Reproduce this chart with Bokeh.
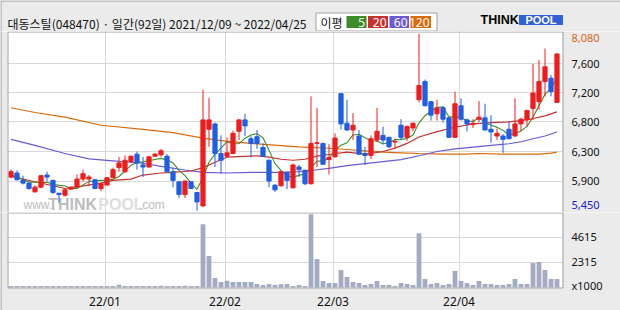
from bokeh.plotting import figure
from bokeh.models import ColumnDataSource, Range1d, FixedTicker, Grid, Label
from bokeh.layouts import column
from bokeh.embed import file_html
from bokeh.resources import INLINE
from bokeh.core.properties import value

# ---------------- data ----------------
opens = [5950, 6010, 5900, 5860, 5730, 5800, 5980, 5900, 5710, 5680,
         5770, 5800, 5920, 5920, 5910, 5780, 5830, 5940, 6090, 6030,
         6180, 6290, 6130, 6100, 6260, 6280, 6260, 6030, 5880, 5690,
         5880, 5720, 5520, 6660, 6740, 6300, 6260, 6300, 6630, 6800,
         6520, 6550, 6390, 6200, 5830, 5820, 6020, 5790, 6100, 6050,
         5850, 6450, 6450, 6210, 6250, 7190, 6750, 6650, 6560, 6300,
         6270, 6500, 6570, 6540, 6470, 6720, 6540, 6680, 7100, 7370,
         7070, 6890, 6980, 6830, 6540, 7010, 6800, 6730, 6810, 6830,
         6660, 6560, 6560, 6660, 6560, 6740, 6800, 6970, 7070, 7370,
         7420, 7060]
highs = [6060, 6050, 5970, 5870, 5830, 5980, 6030, 5910, 5710, 5780,
         5810, 5990, 6060, 5980, 5920, 5870, 5950, 6090, 6250, 6270,
         6270, 6330, 6250, 6260, 6310, 6370, 6290, 6090, 5890, 5900,
         5890, 5730, 7250, 7130, 6760, 6570, 6540, 6640, 6810, 6890,
         6560, 6650, 6450, 6210, 5840, 6040, 6030, 6150, 6130, 6060,
         7150, 6980, 6460, 6440, 6600, 7200, 7100, 6900, 6650, 6400,
         6570, 6980, 6700, 6550, 6520, 6810, 6720, 6760, 8080, 7400,
         7080, 7100, 7000, 6840, 7220, 7120, 6820, 6810, 7080, 7040,
         6870, 6670, 6590, 6780, 7120, 6830, 6950, 7630, 7690, 7860,
         7470, 7790]
lows = [5930, 5900, 5840, 5760, 5720, 5790, 5890, 5700, 5570, 5660,
        5760, 5790, 5880, 5820, 5770, 5740, 5830, 5930, 6030, 6010,
        6160, 6060, 5950, 6090, 6250, 6250, 6020, 5800, 5640, 5640,
        5770, 5450, 5510, 6400, 6100, 6000, 6250, 6290, 6500, 6560,
        6240, 6370, 6250, 5800, 5730, 5810, 5770, 5780, 5950, 5830,
        5840, 6100, 6130, 5990, 6240, 6660, 6640, 6500, 6280, 6130,
        6220, 6470, 6440, 6380, 6380, 6500, 6490, 6630, 7060, 7000,
        6790, 6790, 6760, 6530, 6530, 6790, 6630, 6680, 6770, 6640,
        6460, 6500, 6310, 6510, 6550, 6630, 6700, 6800, 6950, 7150,
        7150, 7060]
closes = [6030, 5910, 5860, 5780, 5800, 5970, 5950, 5720, 5690, 5760,
          5800, 5920, 6000, 5950, 5780, 5850, 5940, 6060, 6160, 6200,
          6260, 6160, 6100, 6250, 6290, 6340, 6030, 5900, 5690, 5890,
          5780, 5580, 6800, 6800, 6300, 6200, 6310, 6600, 6800, 6710,
          6450, 6450, 6260, 5890, 5760, 6030, 5900, 6130, 6060, 5850,
          6450, 6460, 6140, 6240, 6530, 6740, 6650, 6720, 6290, 6270,
          6520, 6630, 6500, 6400, 6480, 6540, 6700, 6750, 7310, 7010,
          6870, 6980, 6810, 6540, 7040, 6810, 6740, 6750, 6840, 6650,
          6620, 6600, 6510, 6520, 6740, 6810, 6940, 7200, 7370, 7590,
          7220, 7780]
# volume, thousands of shares
volumes = [130, 130, 130, 130, 130, 130, 130, 130, 130, 130,
           130, 130, 130, 130, 130, 130, 130, 140, 250, 140,
           130, 140, 130, 140, 130, 150, 140, 130, 140, 150,
           130, 140, 5840, 2900, 870, 510, 630, 510, 510, 510,
           510, 320, 230, 320, 230, 300, 320, 140, 230, 140,
           6760, 2620, 600, 410, 410, 1610, 970, 510, 410, 230,
           320, 600, 230, 230, 140, 410, 320, 230, 5010, 780,
           320, 410, 230, 320, 1520, 600, 410, 230, 600, 320,
           320, 230, 230, 320, 780, 320, 320, 2250, 2350, 1610,
           780, 780]
ma5 = [5975, 5955, 5915, 5875, 5876, 5864, 5872, 5844, 5826, 5818,
       5784, 5778, 5834, 5886, 5890, 5900, 5904, 5916, 5958, 6042,
       6124, 6168, 6176, 6194, 6212, 6228, 6202, 6162, 6050, 5970,
       5858, 5768, 5945, 6170, 6290, 6380, 6475, 6442, 6448, 6528,
       6576, 6595, 6534, 6350, 6150, 6050, 5968, 5950, 5975, 6000,
       6090, 6185, 6190, 6225, 6355, 6422, 6460, 6576, 6586, 6534,
       6490, 6486, 6442, 6464, 6506, 6510, 6524, 6574, 6756, 6862,
       6928, 6984, 6996, 6842, 6848, 6836, 6788, 6776, 6836, 6758,
       6720, 6692, 6644, 6580, 6598, 6636, 6704, 6842, 7012, 7182,
       7264, 7432]
ma20_idx = [0, 4, 9, 12, 15, 17, 20, 22, 25, 27, 30, 32, 34, 36, 38, 41, 43, 45, 47,
            49, 51, 53, 56, 59, 62, 64, 66, 68, 71, 74, 77, 80, 83, 85, 87, 89, 91]
ma20 = [5960, 5880, 5780, 5820, 5860, 5900, 5920, 5980, 6010, 6020, 6040, 6090,
        6170, 6245, 6255, 6265, 6245, 6215, 6200, 6215, 6260, 6285, 6320, 6290,
        6330, 6380, 6450, 6545, 6625, 6690, 6740, 6760, 6770, 6790, 6820, 6860, 6920]
ma60_idx = [0, 4, 9, 13, 17, 22, 25, 29, 32, 36, 40, 45, 48, 50, 53, 56, 59, 62,
            65, 68, 71, 74, 77, 80, 83, 85, 87, 89, 91]
ma60 = [6510, 6420, 6300, 6220, 6190, 6155, 6110, 6055, 6020, 6010, 6020, 6020,
        6030, 6047, 6080, 6120, 6150, 6180, 6210, 6267, 6330, 6370, 6395, 6420,
        6445, 6475, 6520, 6560, 6620]
ma120_idx = [0, 4, 9, 15, 22, 27, 32, 36, 40, 45, 48, 53, 56, 59, 62, 65, 68, 72,
             76, 78, 82, 88, 90, 91]
ma120 = [6980, 6910, 6840, 6720, 6660, 6610, 6530, 6480, 6450, 6418, 6400, 6378,
         6360, 6340, 6320, 6310, 6300, 6290, 6290, 6300, 6290, 6290, 6305, 6320]

month_idx = [16, 36, 54, 75]            # first trading day of each month
month_labels = ["22/01", "22/02", "22/03", "22/04"]
price_grid = [7631, 7200, 6769, 6323, 5891]
price_grid_labels = ["7,600", "7,200", "6,800", "6,300", "5,900"]
price_hi_label = "8,080"
price_lo_label = "5,450"
vol_grid = [4615, 2315]
vol_grid_labels = ["4615", "2315"]
vol_unit_label = "x1000"
title_text = "대동스틸(048470) · 일간(92일) 2021/12/09 ~ 2022/04/25"
ma_names = ["5", "20", "60", "120"]

# ---------------- styles ----------------
BG = "#ebebeb"
GRID = "#d9d9d9"
FRAME = "#a0a0a0"
EDGE = "#999999"
UP = "#f01c1c"
DOWN = "#1e5fe6"
C5, C20, C60, C120 = "#3c8c28", "#c8322d", "#6a5ad8", "#dc6a0a"
VOLC = "#a3abc3"
NUM_FONT = "Noto Sans"
TXT = "#111111"

n = len(closes)
idx = list(range(n))
colors = [UP if c >= o else DOWN for o, c in zip(opens, closes)]
src = ColumnDataSource(dict(
    x=idx, high=highs, low=lows,
    top=[max(o, c) for o, c in zip(opens, closes)],
    bottom=[min(o, c) for o, c in zip(opens, closes)],
    color=colors, vol=volumes))

# geometry: every frame spans the whole page width (px 0..620); the chart area
# is px 7..562, the strip to its right holds the value labels.
PX = 6.0                                   # pixels per trading day
X0 = -0.5833333 - 7 / PX                   # x value at page px 0


def xpx(px):
    return X0 + px / PX


xr = Range1d(X0, xpx(620))
month_ticks = [m - 1 / 3 for m in month_idx]

# ---------------- header ----------------
hdr = figure(width=620, height=31, x_range=Range1d(0, 620), y_range=Range1d(31, 0),
             toolbar_location=None, output_backend="svg", min_border=0,
             min_border_left=0, min_border_right=0, min_border_top=0, min_border_bottom=0,
             x_axis_location=None, y_axis_location=None,
             background_fill_color=BG, border_fill_color=BG, outline_line_color=None)
hdr.grid.visible = False
hdr.segment(x0=[0.5, 0], y0=[0, 0.5], x1=[0.5, 620], y1=[31, 0.5], line_color=EDGE, line_width=1)
hdr.text(x=[7], y=[22.5], text=[title_text], text_font=value("Noto Sans CJK KR"),
         text_font_size="12px", text_baseline="middle", text_color=TXT)
hdr.quad(left=[315.5], right=[436.5], top=[12.5], bottom=[30.5],
         fill_color="white", line_color=FRAME, line_width=1)
hdr.text(x=[320], y=[22], text=["이평"], text_font=value("Noto Sans CJK KR"),
         text_font_size="12px", text_baseline="middle", text_color=TXT)
bl = [346, 367.5, 389, 410]
br = [366, 387.5, 408.5, 430.5]
hdr.quad(left=bl, right=br, top=[15.5] * 4, bottom=[27.5] * 4,
         fill_color=[C5, C20, C60, C120], line_color=None)
hdr.text(x=[r - 1.5 for r in br], y=[21.8] * 4, text=ma_names, text_font=value(NUM_FONT),
         text_font_size="12px", text_baseline="middle", text_align="right",
         text_color="white")
hdr.text(x=[518.3], y=[19.8], text=["THINK"], text_font=value("Liberation Sans"),
         text_font_size="12.5px", text_font_style="bold", text_baseline="middle",
         text_align="right", text_color="black")
hdr.quad(left=[518.5], right=[562.5], top=[14.5], bottom=[24.5],
         fill_color="#2f62d6", line_color=None)
hdr.text(x=[540.5], y=[19.8], text=["POOL"], text_font=value("Liberation Sans"),
         text_font_size="11px", text_font_style="bold", text_baseline="middle",
         text_align="center", text_color="white")

# ---------------- price panel ----------------
PY0, PY1 = 5423, 8114                      # price at frame bottom / top (181 px)
ppx = (PY1 - PY0) / 181
p = figure(width=620, height=181, x_range=xr, y_range=Range1d(PY0, PY1),
           toolbar_location=None, output_backend="svg",
           x_axis_location=None, y_axis_location=None, min_border=0,
           min_border_left=0, min_border_right=0, min_border_top=0, min_border_bottom=0,
           background_fill_color="white", border_fill_color=BG, outline_line_color=None)
p.grid.visible = False
p.add_layout(Grid(dimension=0, ticker=FixedTicker(ticks=month_ticks), grid_line_color=GRID))
p.add_layout(Grid(dimension=1, ticker=FixedTicker(ticks=price_grid), grid_line_color=GRID))

for txt, xx, size, style, col in [("www.", 2.08, "12px", "normal", "#bdbdbd"),
                                  ("THINK", 6.2, "16px", "bold", "#bdbdbd"),
                                  ("POOL", 14.55, "16px", "bold", "#dedede"),
                                  (".com", 21.3, "12px", "normal", "#bdbdbd")]:
    p.add_layout(Label(x=xx, y=5535, text=txt, text_font="Liberation Sans",
                       text_font_size=size, text_font_style=style, text_color=col,
                       text_baseline="middle", level="underlay"))

p.line(ma120_idx, ma120, line_color=C120, line_width=1.2)
p.line(ma60_idx, ma60, line_color=C60, line_width=1.2)
p.line(ma20_idx, ma20, line_color=C20, line_width=1.2)
p.line(idx, ma5, line_color=C5, line_width=1.1)
p.segment(x0="x", y0="low", x1="x", y1="high", line_color="color", line_width=1, source=src)
p.vbar(x="x", top="top", bottom="bottom", width=0.7, fill_color="color",
       line_color="color", line_width=1, source=src)

# side strips, chart-area border, page edge
p.quad(left=[xpx(-10), xpx(562)], right=[xpx(7), xpx(630)], bottom=[PY0 - 500] * 2,
       top=[PY1 + 500] * 2, fill_color=BG, line_color=None)
p.quad(left=[xpx(7.5)], right=[xpx(562.5)], top=[PY1 - 0.5 * ppx], bottom=[PY0 - 500],
       fill_color=None, line_color=FRAME, line_width=1)
p.segment(x0=[xpx(0.5)], y0=[PY0 - 500], x1=[xpx(0.5)], y1=[PY1 + 500],
          line_color=EDGE, line_width=1)
p.text(x=[xpx(571)] * len(price_grid), y=price_grid, text=price_grid_labels,
       text_font=value(NUM_FONT), text_font_size="11px", text_baseline="middle",
       text_color=TXT)
p.text(x=[xpx(571)], y=[PY1 - 6.3 * ppx], text=[price_hi_label],
       text_font=value(NUM_FONT), text_font_size="11px", text_baseline="middle",
       text_color="#d2691e")
p.text(x=[xpx(571)], y=[PY0 + 7.2 * ppx], text=[price_lo_label],
       text_font=value(NUM_FONT), text_font_size="11px", text_baseline="middle",
       text_color="#1a1ad0")

# ---------------- volume panel ----------------
VPX = 6915 / 75                            # thousand shares per pixel
VY0, VY1 = -23 * VPX, 6915                 # 98 px frame, zero volume at page px 287
v = figure(width=620, height=98, x_range=xr, y_range=Range1d(VY0, VY1),
           toolbar_location=None, output_backend="svg",
           x_axis_location=None, y_axis_location=None, min_border=0,
           min_border_left=0, min_border_right=0, min_border_top=0, min_border_bottom=0,
           background_fill_color="white", border_fill_color=BG, outline_line_color=None)
v.grid.visible = False
v.add_layout(Grid(dimension=0, ticker=FixedTicker(ticks=month_ticks), grid_line_color=GRID))
v.add_layout(Grid(dimension=1, ticker=FixedTicker(ticks=vol_grid), grid_line_color=GRID))
v.vbar(x="x", top="vol", width=0.8, fill_color=VOLC, line_color=None, source=src)

v.quad(left=[xpx(-10), xpx(562), xpx(-10)], right=[xpx(7), xpx(630), xpx(630)],
       bottom=[VY0 - 500, VY0 - 500, VY0 - 500], top=[VY1 + 500, VY1 + 500, -1 * VPX],
       fill_color=BG, line_color=None)
v.quad(left=[xpx(7.5)], right=[xpx(562.5)], top=[VY1 - 0.5 * VPX], bottom=[-0.5 * VPX],
       fill_color=None, line_color=FRAME, line_width=1)
v.segment(x0=[xpx(0.5)], y0=[VY0 - 500], x1=[xpx(0.5)], y1=[VY1 + 500],
          line_color=EDGE, line_width=1)
v.text(x=[xpx(571)] * 3, y=vol_grid + [1.6 * VPX], text=vol_grid_labels + [vol_unit_label],
       text_font=value(NUM_FONT), text_font_size="11px", text_baseline="middle",
       text_color=TXT)
v.text(x=month_ticks, y=[-14 * VPX] * len(month_ticks), text=month_labels,
       text_font=value(NUM_FONT), text_font_size="12px", text_baseline="middle",
       text_align="center", text_color=TXT)

layout = column(hdr, p, v, spacing=0)
open("out.html", "w").write(file_html(layout, INLINE))
